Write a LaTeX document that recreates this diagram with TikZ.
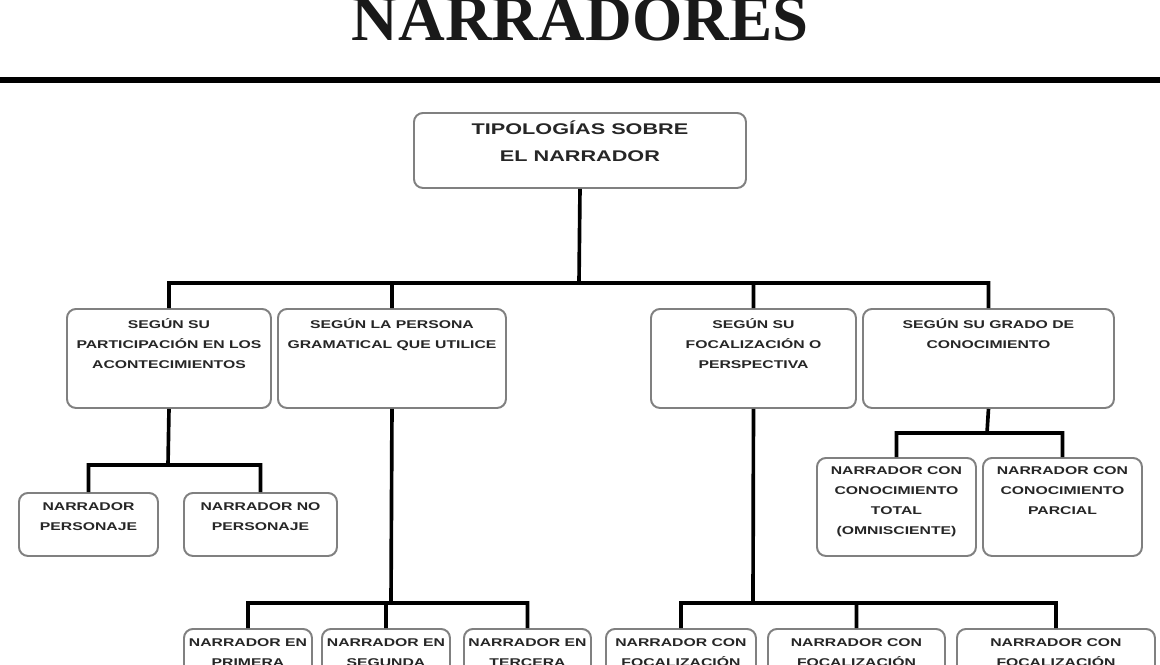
\documentclass[tikz,border=0pt]{standalone}
\usepackage{fontspec}
\setmainfont{Liberation Sans}
\newfontfamily\cajafont{Liberation Sans}[FakeStretch=1.4]
\newfontfamily\titulofont{Liberation Serif}
\newdimen\pxu \pxu=0.025cm
\tikzset{
    caja/.style n args={3}{draw=black!50, line width=1.4pt, rounded corners=9\pxu, inner sep=0pt,
        anchor=north west, text=black!85, font=\cajafont\bfseries\fontsize{8}{14.2}\selectfont,
        execute at begin node={\begin{minipage}[c][#2\pxu][t]{#1\pxu}\centering\vspace*{#3\pxu}},
        execute at end node={\end{minipage}}},
    rama/.style={line width=2.6pt, black}
}

\begin{document}
\begin{tikzpicture}[x=0.025cm,y=-0.025cm]
\useasboundingbox (0,0) rectangle (1160,665);
\clip (0,0) rectangle (1160,665);
\fill[white] (0,0) rectangle (1160,665);
% titulo y raya
\node[font=\titulofont\bfseries\fontsize{46}{46}\selectfont, anchor=base, text=black!90] (titulo) at (580,40) {NARRADORES};
\draw[line width=4pt] (0,80) -- (1160,80);
% cajas
\node[caja={332}{75}{8}, font=\cajafont\bfseries\fontsize{11}{19.2}\selectfont] (tipologias) at (413,112) {TIPOLOGÍAS SOBRE\\EL NARRADOR};
\node[caja={204}{99}{10}] (participacion) at (66,308) {SEGÚN SU\\PARTICIPACIÓN EN LOS\\ACONTECIMIENTOS};
\node[caja={228}{99}{10}] (persona) at (277,308) {SEGÚN LA PERSONA\\GRAMATICAL QUE UTILICE};
\node[caja={205}{99}{10}] (focalizacion) at (650,308) {SEGÚN SU\\FOCALIZACIÓN O\\PERSPECTIVA};
\node[caja={251}{99}{10}] (conocimiento) at (862,308) {SEGÚN SU GRADO DE\\CONOCIMIENTO};
\node[caja={139}{63}{10}] (personaje) at (18,492) {NARRADOR\\PERSONAJE};
\node[caja={153}{63}{10}] (nopersonaje) at (183,492) {NARRADOR NO\\PERSONAJE};
\node[caja={159}{98}{9}] (omnisciente) at (816,457) {NARRADOR CON\\CONOCIMIENTO\\TOTAL\\(OMNISCIENTE)};
\node[caja={159}{98}{9}] (parcial) at (982,457) {NARRADOR CON\\CONOCIMIENTO\\PARCIAL};
\node[caja={128}{60}{10}] (primera) at (183,628) {NARRADOR EN\\PRIMERA};
\node[caja={128}{60}{10}] (segunda) at (321,628) {NARRADOR EN\\SEGUNDA};
\node[caja={127}{60}{10}] (tercera) at (463,628) {NARRADOR EN\\TERCERA};
\node[caja={150}{60}{10}] (focuno) at (605,628) {NARRADOR CON\\FOCALIZACIÓN};
\node[caja={177}{60}{10}] (focdos) at (767,628) {NARRADOR CON\\FOCALIZACIÓN};
\node[caja={198}{60}{10}] (foctres) at (956,628) {NARRADOR CON\\FOCALIZACIÓN};
% nudos de las ramas
\coordinate (n1) at (579,283);
\coordinate (n2) at (168,465);
\coordinate (n3) at (987,433);
\coordinate (n4) at (391,603);
\coordinate (n5) at (753,603);
\draw[rama]
    (tipologias.south) -- (n1)
    (participacion.north) |- (n1) -| (conocimiento.north)
    (persona.north) -- (persona.north |- n1)
    (focalizacion.north) -- (focalizacion.north |- n1)
    (participacion.south) -- (n2)
    (personaje.north) |- (n2) -| (nopersonaje.north)
    (conocimiento.south) -- (n3)
    (omnisciente.north) |- (n3) -| (parcial.north)
    (persona.south) -- (n4)
    (primera.north) |- (n4) -| (tercera.north)
    (segunda.north) -- (segunda.north |- n4)
    (focalizacion.south) -- (n5)
    (focuno.north) |- (n5) -| (foctres.north)
    (focdos.north) -- (focdos.north |- n5)
;
\end{tikzpicture}
\end{document}
